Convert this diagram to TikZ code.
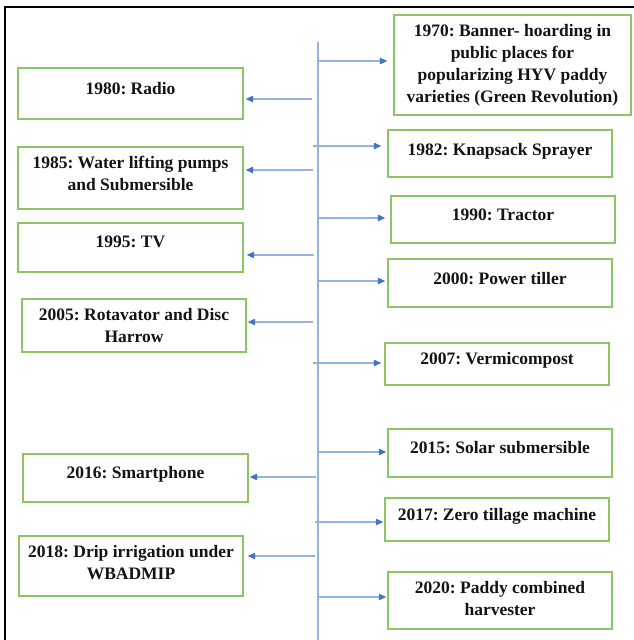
\documentclass[tikz,border=0pt]{standalone}
\usepackage{fontspec}
\setmainfont{Liberation Serif}[BoldFont={Liberation Serif Bold}]
\usetikzlibrary{arrows.meta}
\definecolor{boxgreen}{RGB}{140,198,98}
\definecolor{linkblue}{RGB}{150,178,226}
\definecolor{tipblue}{RGB}{68,114,196}
\definecolor{txtcol}{RGB}{20,20,20}
\tikzset{
  box/.style={draw=boxgreen, line width=1.4pt, inner sep=0pt, fill=white},
  txt/.style={text=txtcol, font=\frenchspacing\bfseries\fontsize{17.5}{22}\selectfont, align=center, inner sep=0pt, anchor=north},
  arr/.style={draw=linkblue, line width=1.2pt, -{Triangle[length=7.5pt,width=6.5pt,color=tipblue]}},
  axisline/.style={draw=linkblue, line width=1.2pt},
  frameline/.style={draw=black, line width=1.4pt}
}
\begin{document}
\frenchspacing
\begin{tikzpicture}[x=1pt,y=-1pt]
\useasboundingbox (0,0) rectangle (634,640);
% frame
\coordinate (fr1) at (634,7);
\coordinate (fr2) at (5,7);
\coordinate (fr3) at (5,640);
\draw[frameline] (fr1) -- (fr2) -- (fr3);
% axis
\coordinate (axtop) at (318,42);
\coordinate (axbot) at (318,640);
\draw[axisline] (axtop) -- (axbot);
% boxes
\node[box, minimum width=237pt, minimum height=100pt] (b1970) at (512.5,65) {};
\node[box, minimum width=225pt, minimum height=51pt] (b1980) at (130.5,93.5) {};
\node[box, minimum width=224pt, minimum height=47pt] (b1982) at (500,153.5) {};
\node[box, minimum width=225pt, minimum height=62pt] (b1985) at (130.5,178) {};
\node[box, minimum width=224pt, minimum height=47pt] (b1990) at (503,219.5) {};
\node[box, minimum width=225pt, minimum height=49pt] (b1995) at (130.5,247.5) {};
\node[box, minimum width=224pt, minimum height=48pt] (b2000) at (500,283) {};
\node[box, minimum width=224pt, minimum height=53pt] (b2005) at (134,325.5) {};
\node[box, minimum width=224pt, minimum height=42pt] (b2007) at (497,364) {};
\node[box, minimum width=224pt, minimum height=48pt] (b2015) at (500,453) {};
\node[box, minimum width=225pt, minimum height=48pt] (b2016) at (135.5,478) {};
\node[box, minimum width=224pt, minimum height=43pt] (b2017) at (497,519.5) {};
\node[box, minimum width=224pt, minimum height=60pt] (b2018) at (131,566) {};
\node[box, minimum width=224pt, minimum height=57pt] (b2020) at (500,600.5) {};
% texts
\node[txt] (t1970) at ([yshift=-10pt]b1970.north) {1970: Banner- hoarding in\\public places for\\popularizing HYV paddy\\varieties (Green Revolution)};
\node[txt] (t1980) at ([yshift=-15pt]b1980.north) {1980: Radio};
\node[txt] (t1982) at ([yshift=-14pt]b1982.north) {1982: Knapsack Sprayer};
\node[txt] (t1985) at ([yshift=-10pt]b1985.north) {1985: Water lifting pumps\\and Submersible};
\node[txt] (t1990) at ([yshift=-13pt]b1990.north) {1990: Tractor};
\node[txt] (t1995) at ([yshift=-13pt]b1995.north) {1995: TV};
\node[txt] (t2000) at ([yshift=-14pt]b2000.north) {2000: Power tiller};
\node[txt] (t2005) at ([yshift=-10pt]b2005.north) {2005: Rotavator and Disc\\Harrow};
\node[txt] (t2007) at ([yshift=-10pt]b2007.north) {2007: Vermicompost};
\node[txt] (t2015) at ([yshift=-13pt]b2015.north) {2015: Solar submersible};
\node[txt] (t2016) at ([yshift=-13pt]b2016.north) {2016: Smartphone};
\node[txt] (t2017) at ([yshift=-11pt]b2017.north) {2017: Zero tillage machine};
\node[txt] (t2018) at ([yshift=-10pt]b2018.north) {2018: Drip irrigation under\\WBADMIP};
\node[txt] (t2020) at ([yshift=-10pt]b2020.north) {2020: Paddy combined\\harvester};
% arrow starts on the axis
\coordinate (s1970) at (319,61);
\coordinate (s1980) at (312,99);
\coordinate (s1982) at (313,146);
\coordinate (s1985) at (313,170);
\coordinate (s1990) at (318,218);
\coordinate (s1995) at (314,255);
\coordinate (s2000) at (317,281);
\coordinate (s2005) at (313,322);
\coordinate (s2007) at (313,363);
\coordinate (s2015) at (319,452);
\coordinate (s2016) at (316,477);
\coordinate (s2017) at (315,522);
\coordinate (s2018) at (315,556);
\coordinate (s2020) at (319,597);
% arrows
\draw[arr, shorten >=6pt] (s1970) -- (s1970 -| b1970.west);
\draw[arr, shorten >=2pt] (s1980) -- (s1980 -| b1980.east);
\draw[arr, shorten >=6pt] (s1982) -- (s1982 -| b1982.west);
\draw[arr, shorten >=2pt] (s1985) -- (s1985 -| b1985.east);
\draw[arr, shorten >=5pt] (s1990) -- (s1990 -| b1990.west);
\draw[arr, shorten >=3pt] (s1995) -- (s1995 -| b1995.east);
\draw[arr, shorten >=2pt] (s2000) -- (s2000 -| b2000.west);
\draw[arr, shorten >=1pt] (s2005) -- (s2005 -| b2005.east);
\draw[arr, shorten >=3pt] (s2007) -- (s2007 -| b2007.west);
\draw[arr, shorten >=1pt] (s2015) -- (s2015 -| b2015.west);
\draw[arr, shorten >=1pt] (s2016) -- (s2016 -| b2016.east);
\draw[arr, shorten >=1pt] (s2017) -- (s2017 -| b2017.west);
\draw[arr, shorten >=4pt] (s2018) -- (s2018 -| b2018.east);
\draw[arr, shorten >=1pt] (s2020) -- (s2020 -| b2020.west);
\end{tikzpicture}
\end{document}
